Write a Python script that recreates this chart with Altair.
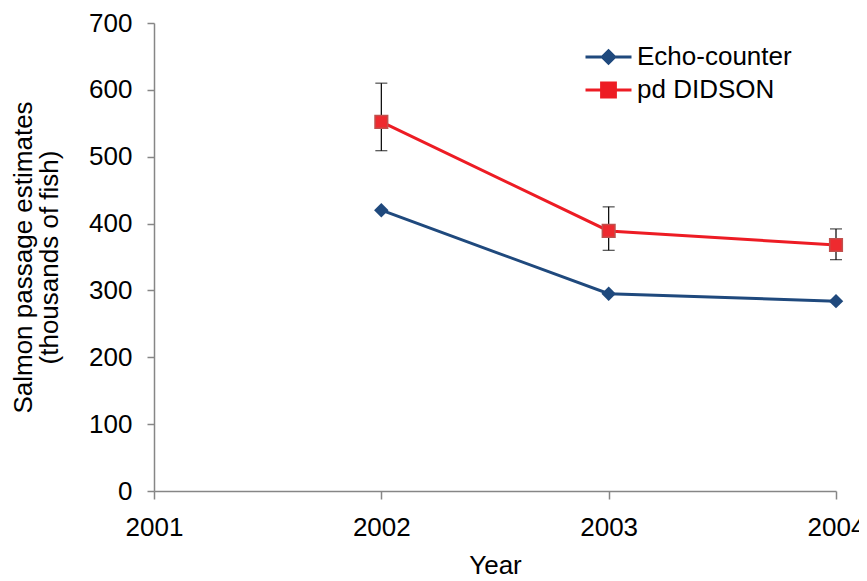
import altair as alt
import pandas as pd

years = [2002, 2003, 2004]
echo_counter = [420, 295, 284]
pd_didson = [552, 389, 368]
didson_low = [509, 360, 346]
didson_high = [610, 425, 392]
series_names = ["Echo-counter", "pd DIDSON"]
series_colors = ["#1F497D", "#ED1C24"]
x_ticks = [2001, 2002, 2003, 2004]
y_ticks = [0, 100, 200, 300, 400, 500, 600, 700]
legend_paths = [
    "M-1,0H1M0,-0.27L0.27,0L0,0.27L-0.27,0Z",
    "M-1,0H1M-0.3,-0.3H0.3V0.3H-0.3Z",
]

FONT = "Liberation Sans"
GREY = "#868686"
FS = 26

df = pd.DataFrame(
    {
        "year": years * 2,
        "value": echo_counter + pd_didson,
        "series": [series_names[0]] * 3 + [series_names[1]] * 3,
    }
)
err = pd.DataFrame({"year": years, "lo": didson_low, "hi": didson_high})

x = alt.X(
    "year:Q",
    scale=alt.Scale(domain=[2001, 2004], nice=False, zero=False),
    axis=alt.Axis(
        values=x_ticks, format="d", title="Year", grid=False,
        tickSize=8, labelPadding=15, titlePadding=12, labelFlush=False,
    ),
)
y = alt.Y(
    "value:Q",
    scale=alt.Scale(domain=[0, 700], nice=False),
    axis=alt.Axis(
        values=y_ticks,
        title=["Salmon passage estimates", "(thousands of fish)"],
        grid=False, tickSize=7, labelPadding=15, titlePadding=26,
        titleLineHeight=26, labelFlush=False,
    ),
)

base = alt.Chart(df)

line_echo = base.transform_filter(alt.datum.series == series_names[0]).mark_line(
    strokeWidth=3, color=series_colors[0]
).encode(x=x, y=y)
line_didson = base.transform_filter(alt.datum.series == series_names[1]).mark_line(
    strokeWidth=3, color=series_colors[1]
).encode(x="year:Q", y="value:Q")

err_rule = alt.Chart(err).mark_rule(color="black", strokeWidth=1.2).encode(
    x=alt.X("year:Q"), y=alt.Y("lo:Q"), y2="hi:Q"
)
cap_lo = alt.Chart(err).mark_tick(color="black", orient="horizontal", size=12, thickness=1.2).encode(
    x=alt.X("year:Q"), y=alt.Y("lo:Q")
)
cap_hi = alt.Chart(err).mark_tick(color="black", orient="horizontal", size=12, thickness=1.2).encode(
    x=alt.X("year:Q"), y=alt.Y("hi:Q")
)

pts_echo = base.transform_filter(
    alt.datum.series == series_names[0]
).mark_point(shape="diamond", filled=True, size=210, opacity=1, color=series_colors[0]).encode(
    x="year:Q", y="value:Q"
)
pts_didson = base.transform_filter(
    alt.datum.series == series_names[1]
).mark_point(shape="square", filled=True, size=160, opacity=1, fill="#EE2A2F",
             stroke="#C0504D", strokeWidth=1.5).encode(
    x="year:Q", y="value:Q"
)

leg = alt.Legend(
    title=None, orient="none", legendX=430, legendY=20,
    labelFont=FONT, labelFontSize=FS, labelColor="black",
    symbolSize=2116, symbolStrokeWidth=3, symbolOpacity=1,
    clipHeight=28, rowPadding=5, labelOffset=4, padding=0,
)
legend_layer = base.mark_point(
    filled=False, opacity=0, strokeWidth=3
).encode(
    x="year:Q", y="value:Q",
    fill=alt.Fill("series:N", scale=alt.Scale(domain=series_names, range=series_colors), legend=leg),
    stroke=alt.Stroke("series:N", scale=alt.Scale(domain=series_names, range=series_colors), legend=leg),
    shape=alt.Shape("series:N", scale=alt.Scale(domain=series_names, range=legend_paths), legend=leg),
)

chart = alt.layer(
    err_rule, cap_lo, cap_hi, line_echo, line_didson, pts_echo, pts_didson, legend_layer
).properties(
    width=682, height=468,
    autosize=alt.AutoSizeParams(type="none"),
    padding={"left": 146, "top": 15, "right": 23, "bottom": 92},
).configure_view(stroke=None).configure_axis(
    labelFont=FONT, titleFont=FONT, labelFontSize=FS, titleFontSize=FS,
    labelColor="black", titleColor="black", titleFontWeight="normal",
    domainColor=GREY, tickColor=GREY, domainWidth=1.5, tickWidth=1.5,
)

chart.save("out.html", embed_options={"renderer": "svg", "actions": False})
